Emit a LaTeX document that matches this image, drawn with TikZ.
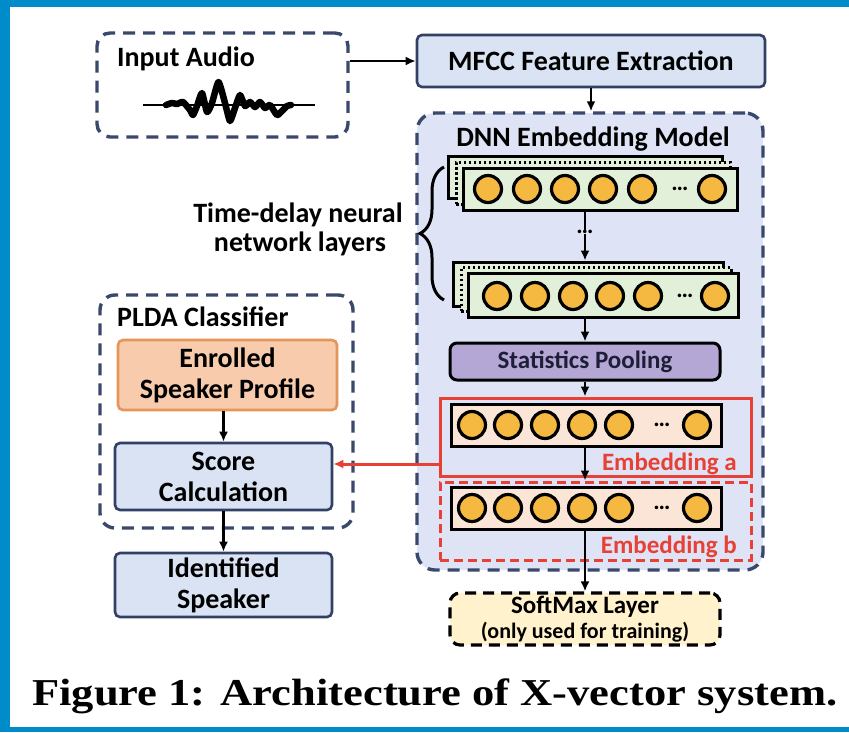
\documentclass[tikz,border=0pt]{standalone}
\usepackage{graphicx}
\usepackage{fontspec}
\setmainfont{Carlito}
\newfontfamily\capfont{Liberation Serif}
\usetikzlibrary{arrows.meta,decorations.pathreplacing}
\definecolor{frameblue}{RGB}{0,140,200}
\definecolor{slate}{RGB}{58,72,108}
\definecolor{navy}{RGB}{50,64,102}
\definecolor{lightblue}{RGB}{218,227,243}
\definecolor{dnnfill}{RGB}{222,228,245}
\definecolor{layergreen}{RGB}{226,240,217}
\definecolor{neuronorange}{RGB}{245,185,65}
\definecolor{statpurple}{RGB}{180,167,214}
\definecolor{embfill}{RGB}{251,229,214}
\definecolor{embred}{RGB}{232,64,52}
\definecolor{enrfill}{RGB}{248,203,173}
\definecolor{enrborder}{RGB}{228,150,90}
\definecolor{softfill}{RGB}{255,242,204}
\tikzset{
  t28/.style={font=\fontsize{28}{31}\selectfont\bfseries, inner sep=0pt},
  t25/.style={font=\fontsize{25}{28}\selectfont\bfseries, inner sep=0pt},
  dashbox/.style={draw=slate, line width=3.4pt, dash pattern=on 12pt off 8pt, rounded corners=13pt, inner sep=0pt},
  bluebox/.style={draw=navy, fill=lightblue, line width=2.6pt, rounded corners=5pt, inner sep=0pt, align=center},
  layerbox/.style={draw=black, line width=3pt, fill=layergreen, inner sep=0pt},
  neuron/.style={circle, draw=black, line width=3.2pt, fill=neuronorange, minimum size=27pt, inner sep=0pt},
  dotsnode/.style={font=\fontsize{24}{24}\selectfont\bfseries, inner sep=0pt},
  arr/.style={-{Latex[length=10pt,width=9pt]}, line width=2.8pt},
  redarr/.style={-{Latex[length=10pt,width=9pt]}, line width=3pt, draw=embred},
}
\begin{document}
\begin{tikzpicture}[x=1pt,y=-1pt]
\useasboundingbox (0,0) rectangle (849,732);
% frame
\fill[frameblue] (0,0) rectangle (849,7);
\fill[frameblue] (0,0) rectangle (10,732);
\fill[frameblue] (0,727) rectangle (849,732);

% input audio
\node[dashbox, fill=white, minimum width=251pt, minimum height=104pt] (audio) at (222.5,85) {};
\node[t28, anchor=base west] (audiolbl) at (117,66) {Input Audio};
\draw[line width=2pt] (143,105) -- (315,105);
\draw[line width=6.5pt, line join=round, line cap=round]
  plot[smooth, tension=0.35] coordinates {(166,105) (172,103) (177,104) (183,102) (190,110) (193,115) (197,106) (202,93) (207,112) (212,103) (218.5,82) (225,103) (230,121) (235,108) (240,95) (245,106) (250,102) (255,107) (260,102) (265,108) (270,105) (277,115) (282,111) (287,106) (291,105)};

% MFCC
\node[bluebox, t28, minimum width=348pt, minimum height=52pt] (mfcc) at (591,61) {MFCC Feature Extraction};
\draw[arr] (audio.east |- mfcc.west) -- (mfcc.west);

% DNN container
\node[dashbox, fill=dnnfill, rounded corners=18pt, minimum width=346pt, minimum height=457pt] (dnn) at (590,341.5) {};
\node[t28, anchor=base] (dnnlbl) at (593,146) {DNN Embedding Model};
\draw[arr] (mfcc.south) -- (dnn.north -| mfcc.south);
\coordinate (colx) at (585,0);

% TDNN layer 1 stack
\node[layerbox, minimum width=274pt, minimum height=42pt] (l1c) at (585,177) {};
\node[layerbox, dash pattern=on 2.5pt off 2.5pt, minimum width=274pt, minimum height=42pt] (l1b) at (593,183) {};
\node[layerbox, minimum width=274pt, minimum height=42pt] (l1) at (600,189) {};
\foreach \x [count=\i] in {488,527,565,603,642,712}
  \node[neuron] (pa\i) at (\x,189) {};
\node[dotsnode] (pdots) at (680,189) {…};

% vertical dots
\node[dotsnode] (vd) at (585,232) {…};
\draw[line width=2.8pt] (l1.south -| colx) -- (vd.north -| colx);

% TDNN layer 2 stack
\node[layerbox, minimum width=270pt, minimum height=44pt] (l2c) at (588,284) {};
\node[layerbox, dash pattern=on 2.5pt off 2.5pt, minimum width=270pt, minimum height=44pt] (l2b) at (596,289.5) {};
\node[layerbox, minimum width=270pt, minimum height=44pt] (l2) at (603,295.5) {};
\foreach \x [count=\i] in {497,535,573,610,648,715}
  \node[neuron] (pb\i) at (\x,296) {};
\node[dotsnode] (qdots) at (685,296) {…};
\draw[arr] (vd.south -| colx) -- (l2c.north -| colx);

% brace and label
\draw[decorate, decoration={brace, amplitude=24pt}, line width=3pt] (444,300) -- (444,167);
\node[t28, anchor=base] (tdnnA) at (298,222) {Time-delay neural};
\node[t28, anchor=base] (tdnnB) at (300,251) {network layers};

% statistics pooling
\node[draw=black, line width=3pt, fill=statpurple, rounded corners=7pt, minimum width=270pt, minimum height=37pt, t25, text={rgb,255:red,30;green,30;blue,55}] (stats) at (585,361.5) {Statistics Pooling};
\draw[arr] (l2.south -| colx) -- (stats.north -| colx);

% embedding a
\node[draw=embred, line width=3pt, minimum width=311pt, minimum height=78pt, inner sep=0pt] (embA) at (595.5,437) {};
\node[layerbox, fill=embfill, minimum width=270pt, minimum height=42pt] (la) at (586,425) {};
\foreach \x [count=\i] in {472,508,545,582,619,697}
  \node[neuron] (ea\i) at (\x,425) {};
\node[dotsnode] (adots) at (662,425) {…};
\node[t25, text=embred, anchor=base east] (embAlbl) at (737,470) {Embedding a};
\draw[arr] (stats.south -| colx) -- (embA.north -| colx);

% embedding b
\node[draw=embred, line width=3pt, dash pattern=on 9pt off 5pt, minimum width=311pt, minimum height=78pt, inner sep=0pt] (embB) at (595.5,521) {};
\node[layerbox, fill=embfill, minimum width=270pt, minimum height=42pt] (lb) at (586,508) {};
\foreach \x [count=\i] in {472,508,545,582,619,697}
  \node[neuron] (eb\i) at (\x,508) {};
\node[dotsnode] (bdots) at (662,508) {…};
\node[t25, text=embred, anchor=base east] (embBlbl) at (737,553) {Embedding b};
\draw[arr] (la.south -| colx) -- (embB.north -| colx);

% softmax
\node[draw=black, fill=softfill, line width=3.2pt, dash pattern=on 11pt off 7pt, rounded corners=10pt, minimum width=270pt, minimum height=52pt, inner sep=0pt, align=center, font=\fontsize{22}{25}\selectfont\bfseries] (soft) at (585,619) {{\fontsize{25}{25}\selectfont SoftMax Layer}\\(only used for training)};
\draw[arr] (lb.south -| colx) -- (soft.north -| colx);

% PLDA classifier
\node[dashbox, fill=white, rounded corners=15pt, minimum width=253pt, minimum height=233pt] (plda) at (226.5,411.5) {};
\node[t28, anchor=base west] (pldalbl) at (117,326) {PLDA Classifier};
\node[draw=enrborder, fill=enrfill, line width=2.6pt, rounded corners=5pt, minimum width=219pt, minimum height=70pt, align=center, t28] (enr) at (227.5,375) {Enrolled\\Speaker Profile};
\node[bluebox, t28, minimum width=217pt, minimum height=67pt] (score) at (223.5,476.5) {Score\\Calculation};
\node[bluebox, t28, minimum width=217pt, minimum height=64pt] (ident) at (223.5,585) {Identified\\Speaker};
\draw[arr] (enr.south -| score.north) -- (score.north);
\draw[arr] (score.south) -- (ident.north);
\coordinate (redy) at (0,464);
\draw[redarr] (embA.west |- redy) -- (score.east |- redy);

% caption
\node[anchor=base west, inner sep=0pt] (cap) at (32,705) {\resizebox{805pt}{\height}{\capfont\bfseries\fontsize{38}{40}\selectfont Figure 1: Architecture of X-vector system.}};
\end{tikzpicture}
\end{document}
